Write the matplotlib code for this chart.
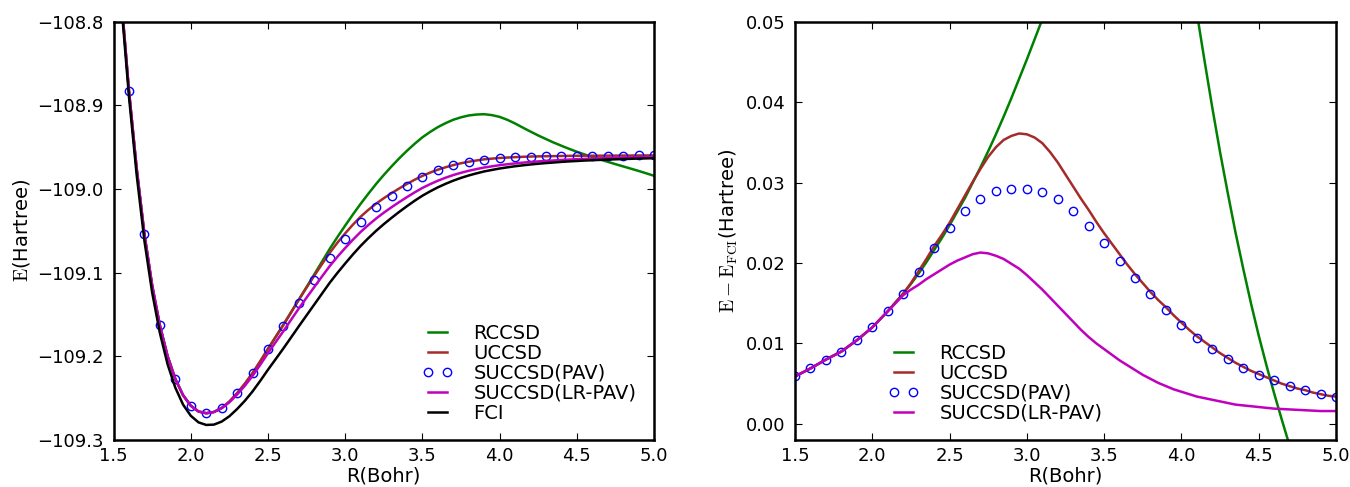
import numpy as np
import matplotlib
matplotlib.use('Agg')
from matplotlib import pyplot as plt
from matplotlib.ticker import FuncFormatter

plt.rcParams['font.family'] = 'DejaVu Sans'
plt.rcParams['mathtext.fontset'] = 'cm'
plt.rcParams['font.size'] = 14
plt.rcParams['xtick.labelsize'] = 13
plt.rcParams['ytick.labelsize'] = 13
plt.rcParams['xtick.direction'] = 'in'
plt.rcParams['ytick.direction'] = 'in'
plt.rcParams['xtick.top'] = True
plt.rcParams['ytick.right'] = True
plt.rcParams['xtick.major.size'] = 5
plt.rcParams['ytick.major.size'] = 5
plt.rcParams['xtick.major.pad'] = 5
plt.rcParams['ytick.major.pad'] = 7
plt.rcParams['axes.linewidth'] = 1.8

# bond length grid for the curves (Bohr), step 0.05
R = [1.50, 1.55, 1.60, 1.65, 1.70, 1.75, 1.80, 1.85, 1.90, 1.95,
     2.00, 2.05, 2.10, 2.15, 2.20, 2.25, 2.30, 2.35, 2.40, 2.45,
     2.50, 2.55, 2.60, 2.65, 2.70, 2.75, 2.80, 2.85, 2.90, 2.95,
     3.00, 3.05, 3.10, 3.15, 3.20, 3.25, 3.30, 3.35, 3.40, 3.45,
     3.50, 3.55, 3.60, 3.65, 3.70, 3.75, 3.80, 3.85, 3.90, 3.95,
     4.00, 4.05, 4.10, 4.15, 4.20, 4.25, 4.30, 4.35, 4.40, 4.45,
     4.50, 4.55, 4.60, 4.65, 4.70, 4.75, 4.80, 4.85, 4.90, 4.95,
     5.00]

# FCI total energy (Hartree)
e_fci = [-108.650, -108.778, -108.8897, -108.9834, -109.062, -109.1236, -109.172, -109.2095, -109.2374, -109.2576,
         -109.271, -109.2789, -109.282, -109.2816, -109.278, -109.2716, -109.263, -109.2532, -109.242, -109.2293,
         -109.216, -109.2033, -109.1905, -109.1773, -109.164, -109.151, -109.138, -109.125, -109.112, -109.1002,
         -109.089, -109.0782, -109.068, -109.0587, -109.050, -109.0420, -109.0345, -109.0273, -109.0205, -109.0140,
         -109.008, -109.0028, -108.998, -108.9938, -108.990, -108.9867, -108.9838, -108.9813, -108.979, -108.9772,
         -108.9755, -108.9741, -108.9728, -108.9717, -108.9707, -108.9698, -108.969, -108.9683, -108.9676, -108.9670,
         -108.9665, -108.9660, -108.9656, -108.9652, -108.9648, -108.9645, -108.9642, -108.9639, -108.9636, -108.9634,
         -108.9632]

# errors E - E_FCI (Hartree) on the same grid
d_rccsd = [0.0059, 0.0064, 0.0069, 0.00745, 0.0080, 0.0085, 0.0090, 0.0097, 0.0104, 0.0112,
           0.0120, 0.0130, 0.0140, 0.0151, 0.0162, 0.0174, 0.0187, 0.0201, 0.0216, 0.0231,
           0.0247, 0.0264, 0.0281, 0.0300, 0.0319, 0.0339, 0.0360, 0.0382, 0.0405, 0.0429,
           0.0453, 0.0478, 0.0503, 0.0531, 0.0560, 0.0588, 0.0615, 0.0640, 0.0662, 0.0681,
           0.0698, 0.0710, 0.0720, 0.0725, 0.0728, 0.0724, 0.0717, 0.0703, 0.0684, 0.0655,
           0.0617, 0.0568, 0.0511, 0.0451, 0.0393, 0.0338, 0.0287, 0.0238, 0.0193, 0.0150,
           0.0110, 0.0073, 0.0038, 0.0005, -0.0027, -0.0058, -0.0088, -0.0118, -0.0148, -0.0179,
           -0.0210]
d_uccsd = [0.0059, 0.0064, 0.0069, 0.00745, 0.0080, 0.0085, 0.0090, 0.0097, 0.0104, 0.0112,
           0.0120, 0.0130, 0.0140, 0.0151, 0.0162, 0.0175, 0.0190, 0.0205, 0.0221, 0.0235,
           0.0250, 0.0267, 0.0284, 0.0301, 0.0317, 0.0332, 0.0344, 0.0353, 0.0358, 0.0361,
           0.0360, 0.0356, 0.0349, 0.0338, 0.0325, 0.0310, 0.0295, 0.0280, 0.0266, 0.0251,
           0.0237, 0.0224, 0.0211, 0.0198, 0.0186, 0.0175, 0.0164, 0.0154, 0.0145, 0.0135,
           0.0126, 0.0117, 0.0109, 0.0102, 0.0095, 0.0088, 0.0082, 0.0076, 0.0071, 0.0066,
           0.0062, 0.0058, 0.0054, 0.0050, 0.0047, 0.0044, 0.0042, 0.0039, 0.0037, 0.0035,
           0.0034]
d_lrpav = [0.0059, 0.0064, 0.0069, 0.00745, 0.0080, 0.0085, 0.0090, 0.0097, 0.0104, 0.0112,
           0.0120, 0.0130, 0.0140, 0.0150, 0.0160, 0.0167, 0.0173, 0.0180, 0.0186, 0.0192,
           0.0198, 0.0203, 0.0207, 0.0211, 0.0213, 0.0212, 0.0209, 0.0205, 0.0199, 0.0193,
           0.0185, 0.0176, 0.0167, 0.0157, 0.0147, 0.0137, 0.0127, 0.0117, 0.0108, 0.0100,
           0.0093, 0.0086, 0.0079, 0.0073, 0.0067, 0.0061, 0.0056, 0.0051, 0.0047, 0.0043,
           0.0040, 0.0037, 0.0034, 0.0032, 0.0030, 0.0028, 0.0026, 0.0024, 0.0023, 0.0022,
           0.0021, 0.0020, 0.0019, 0.00185, 0.0018, 0.00175, 0.0017, 0.00165, 0.0016, 0.0016,
           0.0016]

# SUCCSD(PAV) points, every 0.1 Bohr (R[::2])
d_pav = [0.0059, 0.0069, 0.0080, 0.0090, 0.0104, 0.0120, 0.0140, 0.0162,
         0.0189, 0.0219, 0.0244, 0.0265, 0.0280, 0.0289, 0.0292, 0.0292,
         0.0288, 0.0279, 0.0265, 0.0246, 0.0225, 0.0203, 0.0181, 0.0161,
         0.0141, 0.0123, 0.0107, 0.0093, 0.0081, 0.0070, 0.0061, 0.0054,
         0.0047, 0.0042, 0.0037, 0.0034]

R = np.array(R)
e_fci = np.array(e_fci)
R_pav = R[::2]
d_pav = np.array(d_pav)

lines = [('RCCSD', np.array(d_rccsd), 'g'),
         ('UCCSD', np.array(d_uccsd), '#A52A2A'),
         ('SUCCSD(PAV)', None, 'b'),
         ('SUCCSD(LR-PAV)', np.array(d_lrpav), '#BF00BF')]

fig = plt.figure(figsize=(13.5, 4.87), dpi=100)
ax1 = fig.add_axes([0.0841, 0.0965, 0.4004, 0.859])
ax2 = fig.add_axes([0.5889, 0.0965, 0.4007, 0.859])

for name, d, c in lines:
    if d is None:
        ax1.plot(R_pav, e_fci[::2] + d_pav, 'o', mfc='none', mec=c, mew=1.0,
                 ms=6, label=name)
        ax2.plot(R_pav, d_pav, 'o', mfc='none', mec=c, mew=1.0,
                 ms=6, label=name)
    else:
        ax1.plot(R, e_fci + d, '-', color=c, lw=1.8, label=name)
        ax2.plot(R, d, '-', color=c, lw=1.8, label=name)
ax1.plot(R, e_fci, '-', color='k', lw=1.8, label='FCI')

ax1.set_xlim(1.5, 5.0)
ax1.set_ylim(-109.3, -108.8)
ax1.set_yticks([-109.3, -109.2, -109.1, -109.0, -108.9, -108.8])
ax1.yaxis.set_major_formatter(FuncFormatter(lambda v, p: ('%.1f' % v).replace('-', '\u2212')))
ax1.set_xlabel('R(Bohr)', labelpad=1)
ax1.set_ylabel(r'$\mathrm{E}$(Hartree)')
ax1.legend(loc='lower right', frameon=False, numpoints=2,
           labelspacing=0.05, handlelength=1.55, handletextpad=1.08)

ax2.set_xlim(1.5, 5.0)
ax2.set_ylim(-0.002, 0.05)
ax2.set_yticks([0.0, 0.01, 0.02, 0.03, 0.04, 0.05])
ax2.yaxis.set_major_formatter(FuncFormatter(lambda v, p: '%.2f' % v))
ax2.set_xlabel('R(Bohr)', labelpad=1)
ax2.set_ylabel(r'$\mathrm{E-E_{FCI}}$(Hartree)')
ax2.legend(loc='lower left', bbox_to_anchor=(0.14, 0.0), frameon=False,
           numpoints=2, labelspacing=0.05, handlelength=1.55,
           handletextpad=1.08)

for ax in (ax1, ax2):
    ax.set_xticks([1.5, 2.0, 2.5, 3.0, 3.5, 4.0, 4.5, 5.0])

fig.savefig('out.png', dpi=100)
